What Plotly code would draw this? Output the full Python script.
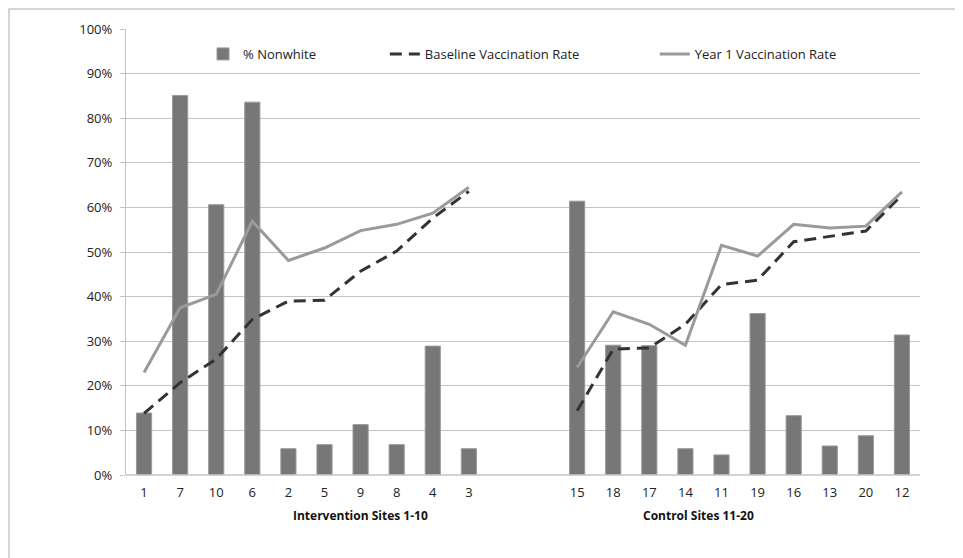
import plotly.graph_objects as go

sites_intervention = ["1", "7", "10", "6", "2", "5", "9", "8", "4", "3"]
sites_control = ["15", "18", "17", "14", "11", "19", "16", "13", "20", "12"]

nonwhite_intervention = [0.139, 0.851, 0.606, 0.836, 0.059, 0.068, 0.113, 0.068, 0.289, 0.059]
nonwhite_control = [0.614, 0.291, 0.290, 0.059, 0.045, 0.362, 0.133, 0.065, 0.088, 0.314]

baseline_intervention = [0.138, 0.207, 0.260, 0.349, 0.390, 0.392, 0.457, 0.502, 0.576, 0.636]
baseline_control = [0.144, 0.282, 0.285, 0.338, 0.427, 0.437, 0.523, 0.535, 0.547, 0.628]

year1_intervention = [0.230, 0.375, 0.405, 0.569, 0.481, 0.509, 0.548, 0.562, 0.587, 0.645]
year1_control = [0.241, 0.366, 0.338, 0.291, 0.515, 0.491, 0.562, 0.554, 0.558, 0.635]

gap = 2  # empty category slots between the two groups
x_int = list(range(len(sites_intervention)))
x_ctl = [len(sites_intervention) + gap + i for i in range(len(sites_control))]

FONT = "Open Sans"
FS = 13

fig = go.Figure()

fig.add_trace(go.Bar(
    x=x_int + x_ctl, y=nonwhite_intervention + nonwhite_control,
    name="% Nonwhite", width=0.42,
    marker=dict(color="#777777", line=dict(color="#9a9a9a", width=1)),
    legend="legend",
))
fig.add_trace(go.Scatter(
    x=x_int + [None] + x_ctl, y=baseline_intervention + [None] + baseline_control,
    mode="lines", name="Baseline Vaccination Rate",
    line=dict(color="#333333", width=3, dash="12px,7px"),
    connectgaps=False, legend="legend2",
))
fig.add_trace(go.Scatter(
    x=x_int + [None] + x_ctl, y=year1_intervention + [None] + year1_control,
    mode="lines", name="Year 1 Vaccination Rate",
    line=dict(color="#9a9a9a", width=3),
    connectgaps=False, legend="legend3",
))

legend_common = dict(orientation="h", yanchor="middle", y=0.944, xanchor="left",
                     bgcolor="rgba(0,0,0,0)", font=dict(family=FONT, size=FS, color="#222"))

fig.update_layout(
    width=963, height=558,
    margin=dict(l=118, r=51, t=19, b=91),
    paper_bgcolor="white", plot_bgcolor="white",
    font=dict(family=FONT, size=FS, color="#222"),
    showlegend=True,
    legend=dict(x=0.097, **legend_common),
    legend2=dict(x=0.326, **legend_common),
    legend3=dict(x=0.666, **legend_common),
    xaxis=dict(
        range=[-0.5, len(x_int) + gap + len(x_ctl) - 0.5],
        tickvals=x_int + x_ctl, ticktext=sites_intervention + sites_control,
        showgrid=False, zeroline=False, showline=False, ticks="",
        ticklabelstandoff=8,
        tickfont=dict(family=FONT, size=FS, color="#222"),
    ),
    yaxis=dict(
        range=[0, 1], dtick=0.1, tickformat=".0%",
        showgrid=True, gridcolor="#c4c4c4", gridwidth=1.3,
        showline=True, linecolor="#c4c4c4", linewidth=1.3,
        ticks="outside", ticklen=5, tickcolor="#c4c4c4", tickwidth=1.3,
        zeroline=False, ticklabelstandoff=5,
        tickfont=dict(family=FONT, size=FS, color="#222"),
    ),
    shapes=[
        dict(type="line", xref="paper", yref="paper", x0=0, x1=1, y0=0, y1=0,
             line=dict(color="#c4c4c4", width=1.3)),
        dict(type="rect", xref="paper", yref="paper", x0=-0.1474, x1=1.1, y0=-0.3, y1=1.0446,
             line=dict(color="#c8c8c8", width=1.5), layer="below"),
    ],
    annotations=[
        dict(text="<b>Intervention Sites 1-10</b>", xref="x", yref="paper", x=6.0, y=-0.09,
             showarrow=False, yanchor="middle", font=dict(family=FONT, size=12, color="#111")),
        dict(text="<b>Control Sites 11-20</b>", xref="x", yref="paper", x=15.36, y=-0.09,
             showarrow=False, yanchor="middle", font=dict(family=FONT, size=12, color="#111")),
    ],
)

fig.write_html("out.html")
